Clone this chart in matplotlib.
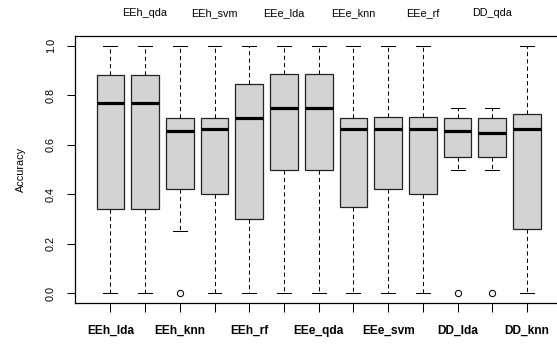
import matplotlib
matplotlib.use("Agg")
import matplotlib.pyplot as plt

plt.rcParams['font.family'] = ['Liberation Sans', 'DejaVu Sans']

names = ["EEh_lda", "EEh_qda", "EEh_knn", "EEh_svm", "EEh_rf",
         "EEe_lda", "EEe_qda", "EEe_knn", "EEe_svm", "EEe_rf",
         "DD_lda", "DD_qda", "DD_knn"]
whislo = [0.0, 0.0, 0.25, 0.0, 0.0, 0.0, 0.0, 0.0, 0.0, 0.0, 0.5, 0.5, 0.0]
q1 = [0.341, 0.341, 0.421, 0.4, 0.3, 0.5, 0.5, 0.347, 0.422, 0.4, 0.549, 0.549, 0.259]
med = [0.768, 0.768, 0.657, 0.665, 0.707, 0.75, 0.75, 0.665, 0.665, 0.665, 0.654, 0.649, 0.664]
q3 = [0.884, 0.884, 0.707, 0.71, 0.846, 0.888, 0.888, 0.707, 0.711, 0.712, 0.707, 0.707, 0.725]
whishi = [1.0, 1.0, 1.0, 1.0, 1.0, 1.0, 1.0, 1.0, 1.0, 1.0, 0.75, 0.75, 1.0]
fliers = [[], [], [0.0], [], [], [], [], [], [], [], [0.0], [0.0], []]

stats = []
for i in range(len(names)):
    stats.append(dict(label=names[i], whislo=whislo[i], q1=q1[i], med=med[i],
                      q3=q3[i], whishi=whishi[i], fliers=fliers[i]))

fig = plt.figure(figsize=(5.57, 3.45), dpi=100)
ax = fig.add_axes([75/557, 42/345, 487.4/557, 267/345])

pos = list(range(1, len(names) + 1))
ax.bxp(stats, positions=pos, widths=0.8, patch_artist=True, showfliers=True,
       boxprops=dict(facecolor="#d3d3d3", edgecolor="#222222", linewidth=0.9),
       medianprops=dict(color="black", linewidth=2.3, solid_capstyle="butt"),
       whiskerprops=dict(color="black", linewidth=0.75, linestyle=(0, (4, 3))),
       capprops=dict(color="black", linewidth=0.75),
       flierprops=dict(marker="o", markerfacecolor="none", markeredgecolor="black",
                       markersize=4.5, markeredgewidth=0.75),
       capwidths=0.4)

ax.set_xlim(-0.02, 14.02)
ax.set_ylim(-0.04, 1.04)

ax.set_xticks(pos)
ax.set_xticklabels([n if i % 2 == 0 else "" for i, n in enumerate(names)],
                   fontsize=8.6, fontweight="bold")
ax.tick_params(axis="x", length=6.5, width=0.75, pad=9.5)

yt = [0.0, 0.2, 0.4, 0.6, 0.8, 1.0]
ax.set_yticks(yt)
ax.set_yticklabels(["%.1f" % v for v in yt], rotation=90, va="center", fontsize=7.8)
ax.tick_params(axis="y", length=5.8, width=0.75, pad=8)
ax.set_ylabel("Accuracy", fontsize=7.8, labelpad=14)

top = ax.secondary_xaxis("top")
top.set_xticks(pos[1::2])
top.set_xticklabels(names[1::2], fontsize=7.8)
top.tick_params(length=0, pad=13)
top.spines["top"].set_visible(False)

for s in ax.spines.values():
    s.set_linewidth(0.9)

fig.savefig("out.png", dpi=100)
